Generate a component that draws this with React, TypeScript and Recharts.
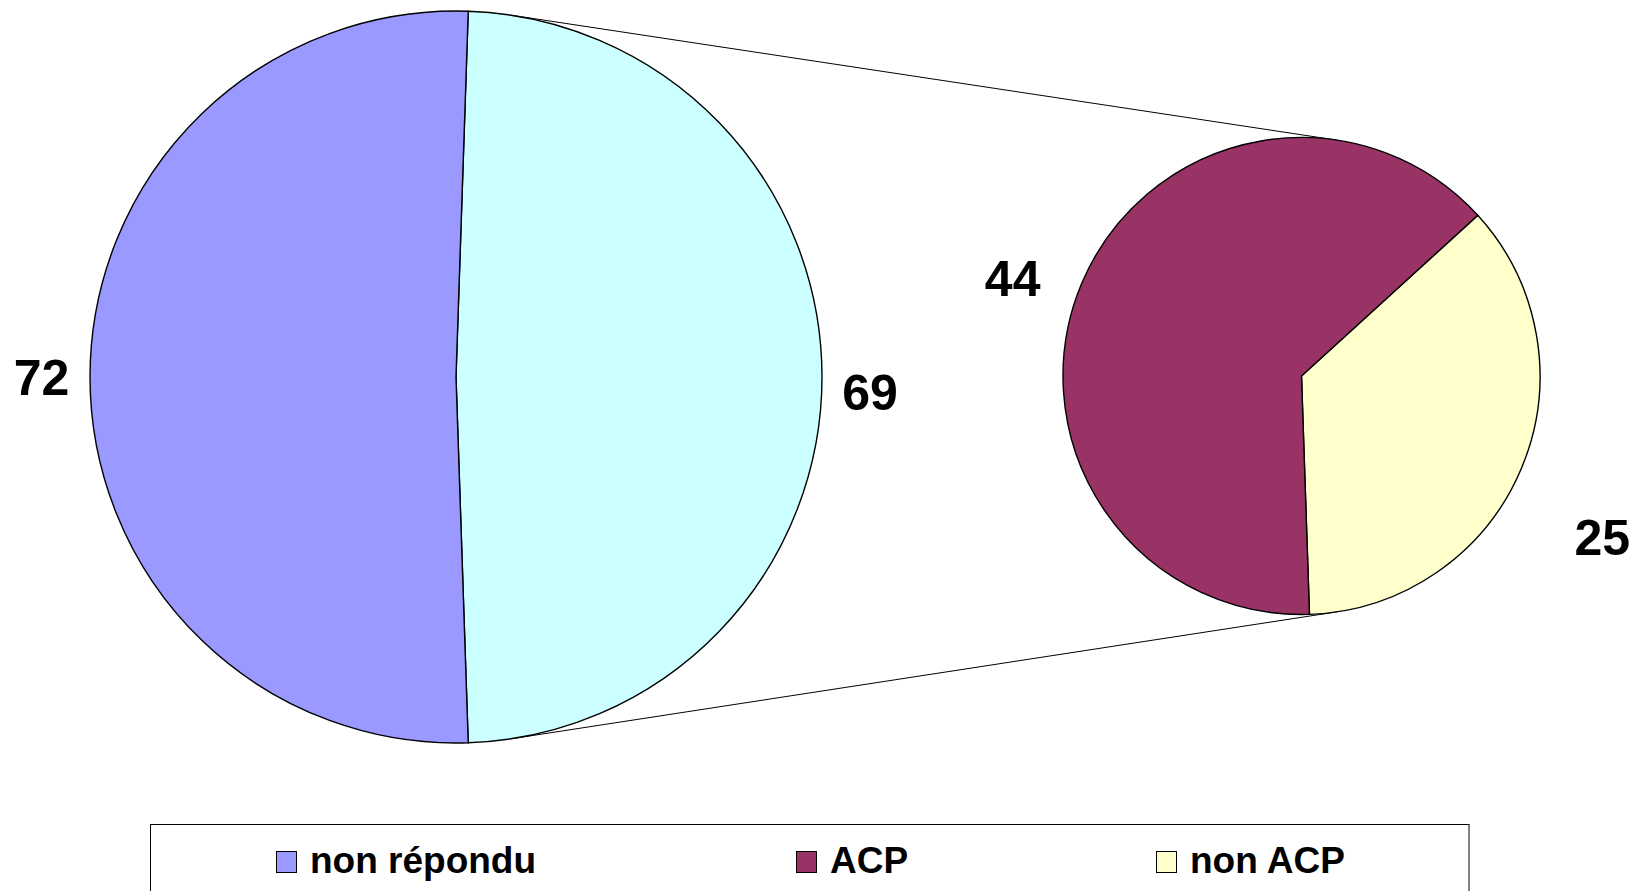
import React from 'react';
import { PieChart, Pie, Cell, Legend, Customized } from 'recharts';

// ---- data ----
const mainCategories = ['répondu', 'non répondu'];
const mainValues = [69, 72];
const subCategories = ['non ACP', 'ACP'];
const subValues = [25, 44];
const legendLabels = ['non répondu', 'ACP', 'non ACP'];

// ---- styles / layout ----
const W = 1646;
const H = 891;
const FONT = '"Liberation Sans", Arial, Helvetica, sans-serif';
const MAIN_COLORS = ['#CCFFFF', '#9999FF'];
const SUB_COLORS = ['#FFFFCC', '#993366'];
const LEGEND_COLORS = ['#9999FF', '#993366', '#FFFFCC'];
const BIG = { cx: 456, cy: 377, r: 366 };
const SMALL = { cx: 1301.5, cy: 376, r: 238.5 };
const LABEL_GAP = 50;
const LABEL_FS = 50;
const MAIN_NUDGE = [[-2, 15], [1.5, 0]];
const SUB_NUDGE = [[35, 49], [-23, 14]];
const LEGEND_BOX = { left: 150, top: 824, width: 1320, height: 110 };
const LEGEND_ITEM_LEFT = [125, 645, 1005];
const LEGEND_FS = 37;
const OUTLINE = 1.4;

const mainData = mainCategories.map((name, i) => ({ name, value: mainValues[i] }));
const subData = subCategories.map((name, i) => ({ name, value: subValues[i] }));

const mainTotal = mainValues.reduce((a, b) => a + b, 0);
const START = -(mainValues[0] / mainTotal) * 180;
const END = START + 360;

const RAD = Math.PI / 180;

const makeLabel = (nudges: number[][]) => (props: any) => {
  const { cx, cy, midAngle, outerRadius, index, value } = props;
  const r = outerRadius + LABEL_GAP;
  const x = cx + r * Math.cos(-midAngle * RAD) + nudges[index][0];
  const y = cy + r * Math.sin(-midAngle * RAD) + nudges[index][1];
  return (
    <text
      key={`lbl-${index}`}
      x={x}
      y={y + 0.358 * LABEL_FS}
      textAnchor="middle"
      fontSize={LABEL_FS}
      fontWeight="bold"
      fontFamily={FONT}
      fill="#000"
    >
      {value}
    </text>
  );
};

const Connectors = () => {
  const dx = SMALL.cx - BIG.cx;
  const dy = SMALL.cy - BIG.cy;
  const d = Math.hypot(dx, dy);
  const ux = dx / d;
  const uy = dy / d;
  const c = (BIG.r - SMALL.r) / d;
  const s = Math.sqrt(1 - c * c);
  const lines = [1, -1].map((sign) => {
    const nx = c * ux + sign * s * uy;
    const ny = c * uy - sign * s * ux;
    return {
      x1: BIG.cx + BIG.r * nx,
      y1: BIG.cy + BIG.r * ny,
      x2: SMALL.cx + SMALL.r * nx,
      y2: SMALL.cy + SMALL.r * ny,
    };
  });
  return (
    <g>
      {lines.map((l, i) => (
        <line key={i} {...l} stroke="#000" strokeWidth={1} />
      ))}
    </g>
  );
};

const LegendContent = () => (
  <div
    style={{
      position: 'relative',
      width: LEGEND_BOX.width,
      height: LEGEND_BOX.height,
      boxSizing: 'border-box',
      borderTop: '1px solid #000',
      borderLeft: '1px solid #000',
      borderRight: '2px solid #808080',
      background: '#fff',
    }}
  >
    {legendLabels.map((lab, i) => (
      <div
        key={lab}
        style={{
          position: 'absolute',
          left: LEGEND_ITEM_LEFT[i],
          top: 17,
          height: LEGEND_FS,
          display: 'flex',
          alignItems: 'center',
          fontFamily: FONT,
          fontWeight: 'bold',
          fontSize: LEGEND_FS,
          lineHeight: `${LEGEND_FS}px`,
          color: '#000',
          whiteSpace: 'nowrap',
        }}
      >
        <span
          style={{
            display: 'inline-block',
            width: 21,
            height: 22,
            boxSizing: 'border-box',
            border: '1px solid #000',
            background: LEGEND_COLORS[i],
            marginRight: 13,
            marginTop: 2,
          }}
        />
        <span>{lab}</span>
      </div>
    ))}
  </div>
);

export default function App() {
  return (
    <div
      style={{
        position: 'absolute',
        left: 0,
        top: 0,
        width: W,
        height: H,
        overflow: 'hidden',
        background: '#fff',
      }}
    >
      <PieChart width={W} height={H} margin={{ top: 0, right: 0, bottom: 0, left: 0 }}>
        <Pie
          data={mainData}
          dataKey="value"
          nameKey="name"
          cx={BIG.cx}
          cy={BIG.cy}
          outerRadius={BIG.r}
          startAngle={START}
          endAngle={END}
          stroke="#000"
          strokeWidth={OUTLINE}
          label={makeLabel(MAIN_NUDGE)}
          labelLine={false}
          isAnimationActive={false}
        >
          {mainData.map((d, i) => (
            <Cell key={d.name} fill={MAIN_COLORS[i]} stroke="#000" strokeWidth={OUTLINE} />
          ))}
        </Pie>
        <Pie
          data={subData}
          dataKey="value"
          nameKey="name"
          cx={SMALL.cx}
          cy={SMALL.cy}
          outerRadius={SMALL.r}
          startAngle={START}
          endAngle={END}
          stroke="#000"
          strokeWidth={OUTLINE}
          label={makeLabel(SUB_NUDGE)}
          labelLine={false}
          isAnimationActive={false}
        >
          {subData.map((d, i) => (
            <Cell key={d.name} fill={SUB_COLORS[i]} stroke="#000" strokeWidth={OUTLINE} />
          ))}
        </Pie>
        <Customized component={Connectors} />
        <Legend
          content={LegendContent}
          wrapperStyle={{
            position: 'absolute',
            left: LEGEND_BOX.left,
            top: LEGEND_BOX.top,
            bottom: 'auto',
            right: 'auto',
            width: LEGEND_BOX.width,
            height: LEGEND_BOX.height,
            margin: 0,
            padding: 0,
          }}
        />
      </PieChart>
    </div>
  );
}
